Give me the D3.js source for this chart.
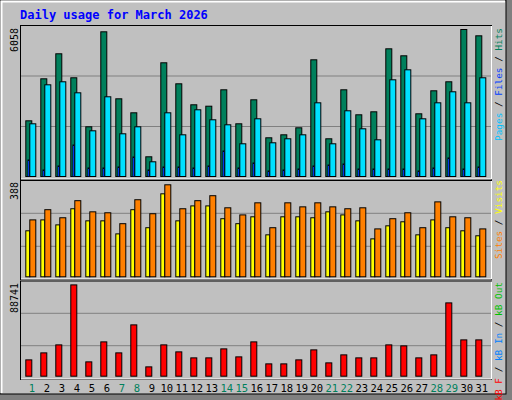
<!DOCTYPE html><html><head><script src="https://cdn.jsdelivr.net/npm/d3@7"></script>
<style>body{margin:0;background:#fff}</style></head><body><svg id="c" width="512" height="400"></svg>
<script>
const days=d3.range(1,32);
const weekend=[1,7,8,14,15,21,22,28,29];
const hits=[2295,4026,5057,4068,2048,5963,3202,2625,812,4686,3820,2955,2897,3573,2172,3161,1595,1718,2007,4809,1554,3573,2543,2666,5262,4974,2584,3532,3903,6058,5798];
const files=[2172,3779,3903,3449,1883,3285,1760,2048,606,2625,1718,2749,2337,2131,1348,2378,1389,1554,1718,3037,1348,2708,1966,1512,3985,4397,2378,3037,3491,3037,4068];
const pages=[688,276,441,1306,359,359,400,812,276,400,400,359,441,1059,359,565,235,276,317,441,482,523,317,317,317,317,235,359,771,317,400];
const visits=[194,240,219,287,236,236,181,283,207,350,236,299,299,245,224,253,177,253,253,249,274,261,236,160,215,232,177,240,207,194,173];
const sites=[240,283,249,321,274,270,224,325,266,388,287,321,342,291,261,312,207,312,295,312,295,287,291,202,245,270,207,316,253,249,202];
const kbytes=[15871,22673,30447,88741,13928,33362,22673,49881,9069,30447,23645,17814,17814,26560,18786,33362,11984,11984,15871,25588,12956,20730,17814,17814,30447,29475,17814,20730,71258,35305,35305];

const svg=d3.select('#c');
const mono="'DejaVu Sans Mono',monospace";
svg.append('rect').attr('width',512).attr('height',400).attr('fill','#808080');
svg.append('rect').attr('x',0).attr('y',0).attr('width',506).attr('height',394).attr('fill','#c0c0c0').attr('stroke','#000').attr('stroke-width',1);
svg.append('path').attr('d','M1.5,393 V1.5 H505').attr('stroke','#fff').attr('fill','none').attr('stroke-width',2);
svg.append('text').attr('x',20).attr('y',19).attr('font-family',mono).attr('font-weight','bold').attr('font-size',12).attr('fill','#0000ff').text('Daily usage for March 2026');

const x=d3.scaleLinear().domain([1,31]).range([25.3,475.3]);
const panels=[{top:25,bot:179,base:176,h:147,max:6058},{top:180,bot:279,base:276.3,h:92,max:388},{top:280.5,bot:379,base:375.7,h:91.3,max:88741}];
panels.forEach(p=>{
  svg.append('rect').attr('x',20.5).attr('y',p.top+.5).attr('width',471).attr('height',p.bot-p.top).attr('fill','none').attr('stroke','#000');
  svg.append('path').attr('d',`M21,${p.bot} H491.5 V${p.top+1}`).attr('stroke','#fff').attr('fill','none');
  p.y=d3.scaleLinear().domain([0,p.max]).range([p.base,p.base-p.h]);
});
[[176-49.5,176-100],[246.3,213.3],[345.7,313.3]].forEach(g=>g.forEach(gy=>svg.append('line').attr('x1',21).attr('x2',491).attr('y1',gy).attr('y2',gy).attr('stroke','#808080')));
function bars(data,p,off,w,col,sw){
  svg.append('g').selectAll('rect').data(data).join('rect')
   .attr('x',(d,i)=>x(days[i])+off+.5).attr('y',d=>p.y(d)+.5).attr('width',w-1).attr('height',d=>p.base-p.y(d))
   .attr('fill',col).attr('stroke','#000').attr('stroke-width',sw);
}
bars(hits,panels[0],0,7,'#00805c',1);
bars(files,panels[0],4,7,'#00e0ff',1);
bars(pages,panels[0],2,2.5,'#0040ff',0.6);
bars(visits,panels[1],0,5,'#ffff00',1);
bars(sites,panels[1],4,7,'#ff8000',1);
bars(kbytes,panels[2],0,7,'#ff0000',1);
[[6058,28],[388,182],[88741,283]].forEach(([v,yy])=>svg.append('text').attr('transform',`translate(18,${yy}) rotate(-90)`).attr('text-anchor','end').attr('font-family',mono).attr('font-size',10).text(v));
function rlab(yy,parts){const t=svg.append('text').attr('transform',`translate(502,${yy}) rotate(-90)`).attr('text-anchor','end').attr('font-family',mono).attr('font-size',9.4);
 parts.forEach(([s,c])=>t.append('tspan').attr('fill',c).text(s));}
rlab(28,[['Pages','#00c0ff'],[' / ','#000'],['Files','#0040ff'],[' / ','#000'],['Hits','#00805c']]);
rlab(180,[['Sites','#ff8000'],[' / ','#000'],['Visits','#ffff00']]);
rlab(282,[['kB F','#ff0000'],[' / ','#000'],['kB In','#0080ff'],[' / ','#000'],['kB Out','#00c000']]);
svg.append('g').selectAll('text').data(days).join('text').attr('x',d=>x(d)+6.5).attr('y',392).attr('text-anchor','middle')
 .attr('font-family',mono).attr('font-size',10.5).attr('fill',d=>weekend.includes(d)?'#00805c':'#000').text(d=>d);
</script></body></html>
